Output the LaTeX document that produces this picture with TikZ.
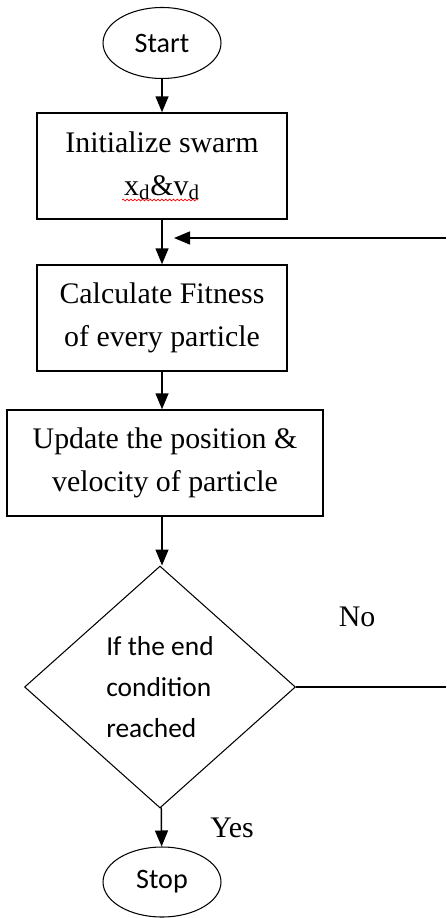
\documentclass[tikz,border=0pt]{standalone}
\usepackage{fontspec}
\setmainfont{Liberation Serif}
\newfontfamily\calfont{Carlito}
\usetikzlibrary{positioning, shapes, arrows.meta, decorations.pathmorphing}

\begin{document}
\begin{tikzpicture}[x=0.02cm, y=-0.02cm,
    box/.style={draw, line width=0.85pt, minimum width=5cm, minimum height=2.12cm, align=center, font=\fontsize{17}{24.4}\selectfont},
    term/.style={draw, ellipse, line width=0.6pt, minimum width=2.36cm, minimum height=1.42cm, inner sep=0pt, font=\calfont\fontsize{16}{18}\selectfont},
    decision/.style={draw, diamond, line width=0.6pt, minimum width=5.42cm, minimum height=4.84cm, inner sep=0pt, align=left, font=\calfont\fontsize{15.6}{23.3}\selectfont},
    tag/.style={font=\fontsize{17}{20}\selectfont},
    arr/.style={-{Triangle[length=3.2mm, width=2.6mm]}, line width=0.85pt}]
      \useasboundingbox (0,0) rectangle (446,918);

      % Steps
      \node[term] (start) at (162,43) {Start};
      \node[box] (init) at (162,166) {Initialize swarm\\x\textsubscript{d}\&v\textsubscript{d}};
      \node[box] (calc) at (162,318) {Calculate Fitness\\of every particle};
      \node[box, minimum width=6.32cm] (update) at (165,463) {Update the position \&\\velocity of particle};
      \node[decision] (cond) at (160,687) {If the end\\condition\\reached};
      \node[term, minimum height=1.4cm] (stop) at (162,882) {Stop};

      % Labels
      \node[tag] (no) at (357,617) {No};
      \node[tag] (yes) at (232,828) {Yes};

      % Loop ends (cut by the page edge)
      \coordinate (noend) at (446,687);
      \coordinate (loopstart) at (446,238);
      \coordinate (loopin) at (174,238);

      % Arrows
      \draw[arr] (start) -- (init);
      \draw[arr] (init) -- (calc);
      \draw[arr] (calc) -- (calc |- update.north);
      \draw[arr] (calc |- update.south) -- (calc |- cond.north);
      \draw[arr] (cond) -- (stop);
      \draw[line width=0.85pt] (cond.east) -- (noend);
      \draw[arr] (loopstart) -- (loopin);

      % Spell-check squiggle
      \draw[red, line width=0.4pt, decorate, decoration={snake, amplitude=0.5pt, segment length=2.2pt}] (122,200) -- (198,200);
    \end{tikzpicture}
\end{document}
